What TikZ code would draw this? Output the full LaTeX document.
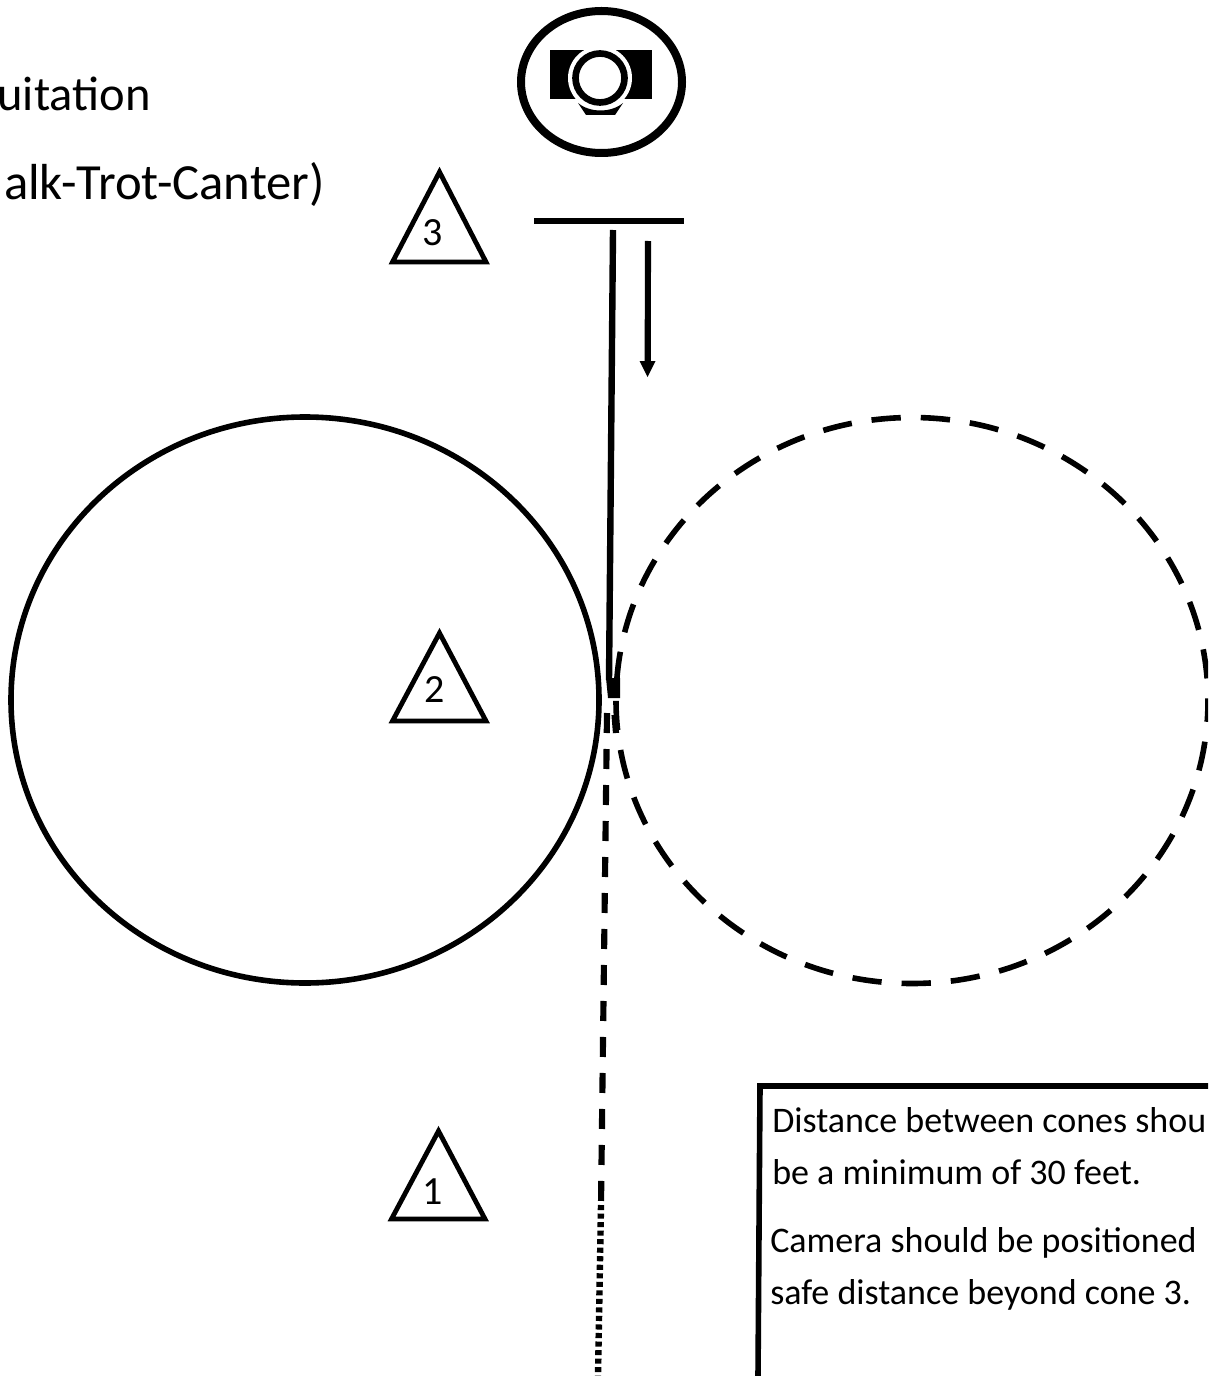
\documentclass[tikz,border=0pt]{standalone}
\usepackage{fontspec}
\setmainfont{Carlito}
\begin{document}
\begin{tikzpicture}[x=0.75pt,y=-0.75pt,
  ink/.style={line width=4.2pt,black},
  cone/.style={line width=3.6pt,black,line join=miter},
  conelabel/.style={font=\fontsize{30}{30}\selectfont,inner sep=0pt,text=black},
  title/.style={font=\fontsize{38}{38}\selectfont,inner sep=0pt,anchor=base east,text=black},
  boxtext/.style={font=\fontsize{27}{27}\selectfont,inner sep=0pt,anchor=base west,text=black},
  >=latex]
\useasboundingbox (0,0) rectangle (1208,1376);
\clip (0,0) rectangle (1208,1376);
% heading
\node[title,font=\fontsize{36.4}{36.4}\selectfont] (t1) at (151,111) {uitation};
\node[title] (t2) at (325,200) {alk-Trot-Canter)};
% camera
\draw[line width=6pt] (601.5,82) ellipse [x radius=80.5,y radius=71];
\fill (550,50) rectangle (652,99.5);
\fill[white] (600,78) circle [radius=32];
\draw[line width=5pt] (600,78) circle [radius=24.5];
\fill (578,103) .. controls (590,113) and (611,113) .. (623,103) -- (615,115) -- (586,115) -- cycle;
% bar and lines
\coordinate (barL) at (534,221);
\coordinate (barR) at (684,221);
\draw[line width=4.8pt] (barL) -- (barR);
\coordinate (solidTop) at (613,230);
\coordinate (solidEnd) at (609,680);
\draw[line width=4.8pt] (solidTop) -- (solidEnd);
\fill (606,678) -- (620,678) -- (620,698) -- (608,698) -- cycle;
\coordinate (arTop) at (648,241);
\coordinate (arEnd) at (647.5,377);
\draw[line width=4.6pt] (arTop) -- (647.7,362);
\fill (639.5,361) -- (655.5,361) -- (arEnd) -- cycle;
% circles
\draw[ink] (305,700) ellipse [x radius=294,y radius=283];
\draw[ink,dash pattern=on 22pt off 15pt,dash phase=6pt] (912,700.5) ellipse [x radius=296,y radius=283];
% vertical dashed, dotted
\coordinate (dashTop) at (607,713);
\coordinate (dashEnd) at (601,1205);
\coordinate (dotEnd) at (598,1376);
\draw[line width=4.6pt,dash pattern=on 15pt off 12pt] (dashTop) -- (dashEnd);
\draw[line width=4.6pt] (614.5,715) -- (616,733);
\draw[line width=4.8pt,dash pattern=on 3.8pt off 2.6pt] (dashEnd) -- (dotEnd);
% cones
\draw[cone] (439.5,172) -- (486,262) -- (392.5,262) -- cycle;
\node[conelabel] (c3) at (433,232.5) {3};
\draw[cone] (439.5,633) -- (486,721) -- (392.5,721) -- cycle;
\node[conelabel] (c2) at (435,689.5) {2};
\draw[cone] (438.5,1131) -- (485,1219) -- (391.5,1219) -- cycle;
\node[conelabel] (c1) at (433,1191.5) {1};
% note box
\draw[line width=4.2pt,line cap=butt] (1208,1086) -- (760,1086) -- (758,1376);
\node[boxtext] (n1) at (772,1132) {Distance between cones shou};
\node[boxtext] (n2) at (772,1184) {be a minimum of 30 feet.};
\node[boxtext] (n3) at (770,1252) {Camera should be positioned};
\node[boxtext] (n4) at (770,1304) {safe distance beyond cone 3.};
\end{tikzpicture}
\end{document}
